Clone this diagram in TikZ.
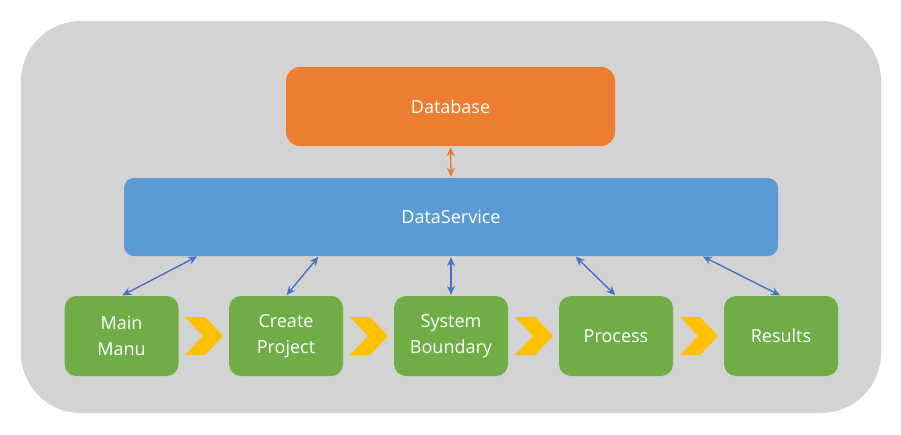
\documentclass[tikz,border=0pt]{standalone}
\usepackage{fontspec}
\setmainfont{Open Sans}
\usetikzlibrary{arrows.meta,calc}
\definecolor{bgc}{HTML}{D3D3D3}
\definecolor{orc}{HTML}{ED7D31}
\definecolor{blc}{HTML}{5B9BD5}
\definecolor{grc}{HTML}{70AD47}
\definecolor{arc}{HTML}{4472C4}
\definecolor{chc}{HTML}{FFC000}
\tikzset{
  box/.style={rounded corners=12pt, text=white, align=center, inner sep=0pt,
    font=\fontsize{18}{26}\selectfont},
  stepbox/.style={box, fill=grc, minimum width=114pt, minimum height=80pt},
  link/.style={draw=arc, line width=1.4pt, {Stealth[length=9pt,width=8pt,inset=3pt]}-{Stealth[length=9pt,width=8pt,inset=3pt]}, shorten >=1pt, shorten <=1pt},
  chev/.style={fill=chc, draw=none}
}
\begin{document}
\begin{tikzpicture}[x=1pt,y=-1pt]
\useasboundingbox (0,0) rectangle (901,434);
\fill[bgc, rounded corners=60pt] (21,21) rectangle (881,413);
\node[box, fill=orc, minimum width=329pt, minimum height=79pt, rounded corners=14pt] (db) at (450.5,106.5) {Database};
\node[box, fill=blc, minimum width=654pt, minimum height=78pt, rounded corners=10pt] (ds) at (451,217) {DataService};
\node[stepbox] (mm) at (121.5,336) {Main\\Manu};
\node[stepbox] (cp) at (286,336) {Create\\Project};
\node[stepbox] (sb) at (451,336) {System\\Boundary};
\node[stepbox] (pr) at (616,336) {Process};
\node[stepbox] (rs) at (781,336) {Results};
% chevrons
\foreach \x in {185,350,515,680}{
  \fill[chev] (\x,317) -- ++(20,0) -- ++(18,19) -- ++(-18,19) -- ++(-20,0) -- ++(18,-19) -- cycle;
}
% connectors
\draw[link, draw=orc] (db.south) -- (ds.north);
\coordinate (d1) at (198,256);
\coordinate (d2) at (319,256);
\coordinate (d4) at (575,256);
\coordinate (d5) at (702,256);
\draw[link] (d1) -- (mm.north);
\draw[link] (d2) -- (cp.north);
\draw[link] (ds.south -| sb.north) -- (sb.north);
\draw[link] (d4) -- (pr.north);
\draw[link] (d5) -- (rs.north);
\end{tikzpicture}
\end{document}
